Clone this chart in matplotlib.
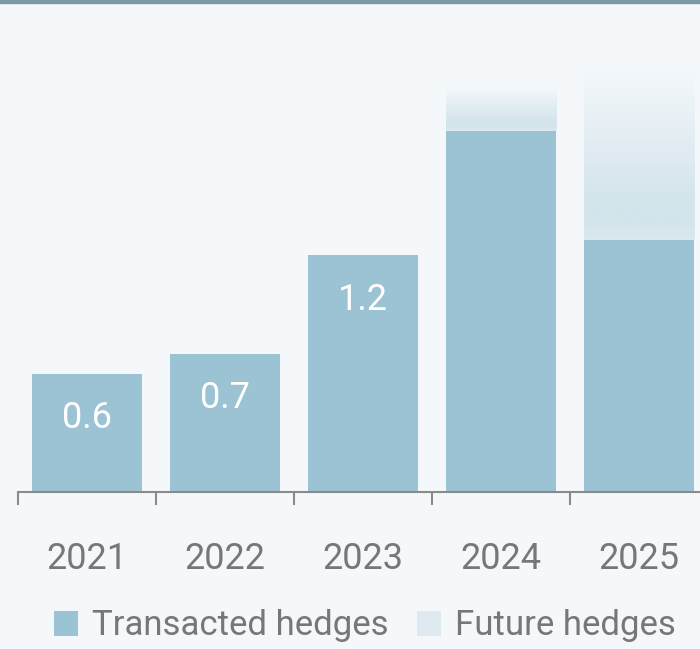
import numpy as np
import matplotlib.pyplot as plt
from matplotlib.patches import Patch, Rectangle
from matplotlib.colors import LinearSegmentedColormap

plt.rcParams["font.family"] = ["Roboto", "DejaVu Sans"]

# data
years = ["2021", "2022", "2023", "2024", "2025"]
transacted = [0.6, 0.7, 1.2, 1.83, 1.28]
future = [0.0, 0.0, 0.0, 0.22, 0.88]
labels = ["0.6", "0.7", "1.2", "", ""]

BG = "#f4f8fb"
BAR = "#9cc3d4"
FUT = "#d3e4eb"
GREY = "#777777"
AXIS = "#8a8a8a"

fig = plt.figure(figsize=(7, 6.49), dpi=100, facecolor=BG)
ax = fig.add_axes([18 / 700, 157 / 649, 690 / 700, 489 / 649])
ax.set_facecolor(BG)

x = np.arange(len(years))
w = 0.8
ax.bar(x, transacted, width=w, color=BAR, zorder=3)

# gradient for future hedges
cmap = LinearSegmentedColormap.from_list("fut", [BG, FUT])
t = np.linspace(0, 1, 200)
grad = np.clip(t / 0.8, 0, 1)
grad = np.where(t > 0.9, grad - (t - 0.9) * 2.5, grad)
grad = grad[:, None]
for xi, base, extra in zip(x, transacted, future):
    if extra <= 0:
        continue
    im = ax.imshow(grad, cmap=cmap, vmin=0, vmax=1, aspect="auto",
                   extent=[xi - w / 2, xi + w / 2, base, base + extra],
                   origin="upper", zorder=2)
    clip = Rectangle((xi - w / 2, base), w, extra, transform=ax.transData)
    im.set_clip_path(clip)

for xi, val, lab in zip(x, transacted, labels):
    if lab:
        ax.text(xi, val - 0.225, lab, ha="center", va="center",
                color="white", fontsize=26, zorder=4)

ax.set_xlim(-0.5, 4.5)
ax.set_ylim(0, 2.48)

for s in ["top", "right", "left"]:
    ax.spines[s].set_visible(False)
ax.spines["bottom"].set_color(AXIS)
ax.spines["bottom"].set_linewidth(1.5)
ax.spines["bottom"].set_zorder(5)

ax.set_yticks([])
ax.set_xticks(x)
ax.set_xticklabels(years, color=GREY, fontsize=26)
ax.tick_params(axis="x", which="major", length=0, pad=35)
ax.set_xticks(x - 0.5, minor=True)
ax.tick_params(axis="x", which="minor", length=9.5, width=1.5, color=AXIS)

# top border stripe
fig.patches.append(Rectangle((0, 1 - 3 / 649), 1, 3 / 649, transform=fig.transFigure,
                             color="#7b9aa8", zorder=10))

handles = [Patch(facecolor=BAR, edgecolor="none"),
           Patch(facecolor="#dfeaf0", edgecolor="none")]
fig.legend(handles, ["Transacted hedges", "Future hedges"], loc="center",
           bbox_to_anchor=(365 / 700, 1 - 626 / 649), ncol=2, frameon=False,
           fontsize=25, labelcolor=GREY, handlelength=0.7, handleheight=0.7,
           handletextpad=0.4, columnspacing=0.8)

fig.savefig("out.png", dpi=100, facecolor=BG)
